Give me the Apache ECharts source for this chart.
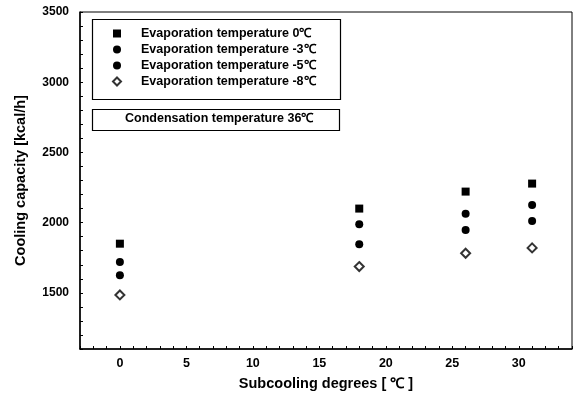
<!DOCTYPE html>
<html>
<head>
<meta charset="utf-8">
<script src="https://cdn.jsdelivr.net/npm/echarts@6/dist/echarts.min.js"></script>
<style>html,body{margin:0;padding:0;background:#fff}#c{width:581px;height:396px}</style>
</head>
<body>
<div id="c"></div>
<script>
var subcooling = [0, 18, 26, 31];
var evap0 = [1850, 2100, 2221, 2278];
var evapM3 = [1720, 1989, 2064, 2126];
var evapM5 = [1625, 1846, 1948, 2012];
var evapM8 = [1485, 1687, 1782, 1820];
var seriesNames = ['Evaporation temperature 0℃', 'Evaporation temperature -3℃', 'Evaporation temperature -5℃', 'Evaporation temperature -8℃'];
var yMajorTicks = [1500, 2000, 2500, 3000, 3500];
var xMajorTicks = [0, 5, 10, 15, 20, 25, 30];
var noteText = 'Condensation temperature 36℃';

function pairs(vals){ return subcooling.map(function(x,i){ return [x, vals[i]]; }); }
var FONT = 'Liberation Sans';
var chart = echarts.init(document.getElementById('c'), null, {renderer:'canvas'});
var symbols = ['rect','circle','circle','diamond'];
var datas = [evap0, evapM3, evapM5, evapM8];
var series = datas.map(function(d,i){
  var hollow = i === 3;
  return {
    name: seriesNames[i], type: 'scatter', data: pairs(d),
    symbol: symbols[i], symbolSize: hollow ? 9 : 8,
    itemStyle: hollow ? {color:'#fff', borderColor:'#000', borderWidth:2} : {color:'#000', opacity: 1}
  };
});
chart.setOption({
  animation: false,
  grid: {left: 80, right: 9, top: 12, bottom: 47, show: true, borderColor: '#000', borderWidth: 1},
  legend: {
    orient: 'vertical', left: 112, top: 27, padding: 0, itemWidth: 8, itemHeight: 8, itemGap: 3,
    textStyle: {fontFamily: FONT, fontWeight: 'bold', fontSize: 12.5, color: '#000', padding: [0,0,0,15], lineHeight: 12},
    data: seriesNames
  },
  xAxis: {
    type: 'value', min: -3, max: 34, interval: 1,
    name: 'Subcooling degrees [ ℃ ]', nameLocation: 'middle', nameGap: 27,
    nameTextStyle: {fontFamily: FONT, fontWeight: 'bold', fontSize: 14.5, color: '#000'},
    axisLine: {onZero: false, lineStyle: {color: '#000', width: 1.5}},
    axisTick: {inside: true, length: 3, lineStyle: {color: '#000'}},
    axisLabel: {margin: 8, fontFamily: FONT, fontWeight: 'bold', fontSize: 12.5, color: '#000',
      formatter: function(v){ return xMajorTicks.indexOf(v) >= 0 ? String(v) : ''; }},
    splitLine: {show: false}
  },
  yAxis: {
    type: 'value', min: 1100, max: 3500, interval: 100,
    name: 'Cooling capacity [kcal/h]', nameLocation: 'middle', nameGap: 52,
    nameTextStyle: {fontFamily: FONT, fontWeight: 'bold', fontSize: 14.5, color: '#000'},
    axisLine: {onZero: false, lineStyle: {color: '#000', width: 1.5}},
    axisTick: {inside: true, length: 3, lineStyle: {color: '#000'}},
    axisLabel: {margin: 11, fontFamily: FONT, fontWeight: 'bold', fontSize: 12, color: '#000',
      formatter: function(v){ return yMajorTicks.indexOf(v) >= 0 ? String(v) : ''; }},
    splitLine: {show: false}
  },
  graphic: [
    {type: 'rect', left: 90, top: 17, shape: {width: 248, height: 80}, style: {fill: 'none', stroke: '#000', lineWidth: 1.2}, z: 10},
    {type: 'rect', left: 90, top: 107, shape: {width: 247, height: 21}, style: {fill: 'none', stroke: '#000', lineWidth: 1.2}, z: 10},
    {type: 'text', left: 125, top: 112, style: {text: noteText, font: 'bold 12.5px "Liberation Sans"', fill: '#000'}, z: 10}
  ],
  series: series
});
</script>
</body>
</html>
